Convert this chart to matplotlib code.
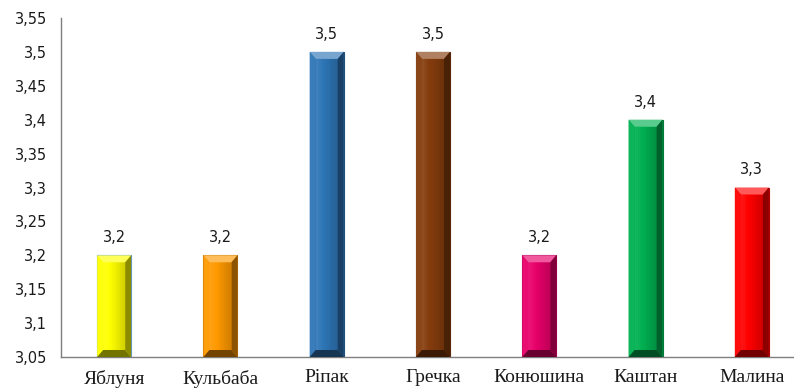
import matplotlib
matplotlib.use("Agg")
import matplotlib.pyplot as plt
from matplotlib.patches import Polygon
from matplotlib.colors import to_rgb
import numpy as np

categories = ["Яблуня", "Кульбаба", "Ріпак", "Гречка", "Конюшина", "Каштан", "Малина"]
values = [3.2, 3.2, 3.5, 3.5, 3.2, 3.4, 3.3]
colors = ["#FFFF00", "#FF9900", "#2E75B6", "#843C0C", "#E8006A", "#00B050", "#FF0000"]
edge_colors = ["#5B9BD5", "#B86E00", "#1F4E79", "#5A2808", "#A0004A", "#007A38", "#B00000"]
y_ticks = [3.05, 3.1, 3.15, 3.2, 3.25, 3.3, 3.35, 3.4, 3.45, 3.5, 3.55]
y_min, y_max = 3.05, 3.55

W, H = 794, 389
fig = plt.figure(figsize=(W / 100, H / 100), dpi=100)
left_px, right_px, top_px, bottom_px = 61, 805, 18, 357
ax = fig.add_axes([left_px / W, 1 - bottom_px / H,
                   (right_px - left_px) / W, (bottom_px - top_px) / H])

x = np.arange(len(categories))
bar_w = 0.32
bars = ax.bar(x, [v - y_min for v in values], bottom=y_min, width=bar_w,
              color=colors, edgecolor=edge_colors, linewidth=0.8, zorder=2)

ax.set_xlim(-0.5, len(categories) - 0.5)
ax.set_ylim(y_min, y_max)

# bevel size in data units, derived from pixel sizes
px_x = 1.0 / ((right_px - left_px) / len(categories))
px_y = (y_max - y_min) / (bottom_px - top_px)
bx, by = 6 * px_x, 7 * px_y


def shade(c, f):
    r, g, b = to_rgb(c)
    if f >= 0:
        return (r + (1 - r) * f, g + (1 - g) * f, b + (1 - b) * f)
    return (r * (1 + f), g * (1 + f), b * (1 + f))


for xi, v, c in zip(x, values, colors):
    L, R = xi - bar_w / 2, xi + bar_w / 2
    T, B = v, y_min
    # inner face gradient: slightly lighter on the left, darker on the right
    n = 12
    for k in range(n):
        f = 0.08 - 0.25 * k / (n - 1)
        x0 = L + bx + (R - L - 2 * bx) * k / n
        x1 = L + bx + (R - L - 2 * bx) * (k + 1) / n
        ax.add_patch(Polygon([(x0, B + by), (x1, B + by), (x1, T - by), (x0, T - by)],
                             closed=True, facecolor=shade(c, f), edgecolor="none", zorder=3))
    faces = [
        ([(L, T), (R, T), (R - bx, T - by), (L + bx, T - by)], 0.35),
        ([(L, T), (L + bx, T - by), (L + bx, B + by), (L, B)], 0.05),
        ([(R, T), (R, B), (R - bx, B + by), (R - bx, T - by)], -0.45),
        ([(L, B), (R, B), (R - bx, B + by), (L + bx, B + by)], -0.55),
    ]
    for pts, f in faces:
        ax.add_patch(Polygon(pts, closed=True, facecolor=shade(c, f),
                             edgecolor="none", zorder=3))
    ax.text(xi, v + 10 * px_y, f"{v:.1f}".replace(".", ","), ha="center", va="bottom",
            fontsize=10.5, family="DejaVu Sans", color="#1a1a1a", zorder=4)

ax.set_yticks(y_ticks)
ax.set_yticklabels([f"{t:g}".replace(".", ",") for t in y_ticks],
                   fontsize=10.5, family="DejaVu Sans", color="#1a1a1a")
ax.set_xticks(x)
ax.set_xticklabels(categories, fontsize=14, family="Liberation Serif", color="#1a1a1a")
ax.tick_params(axis="both", length=0)
ax.tick_params(axis="y", pad=10)
ax.tick_params(axis="x", pad=9)

for s in ["top", "right"]:
    ax.spines[s].set_visible(False)
for s in ["left", "bottom"]:
    ax.spines[s].set_color("#7f7f7f")
    ax.spines[s].set_linewidth(1.0)

fig.savefig("out.png", dpi=100)
